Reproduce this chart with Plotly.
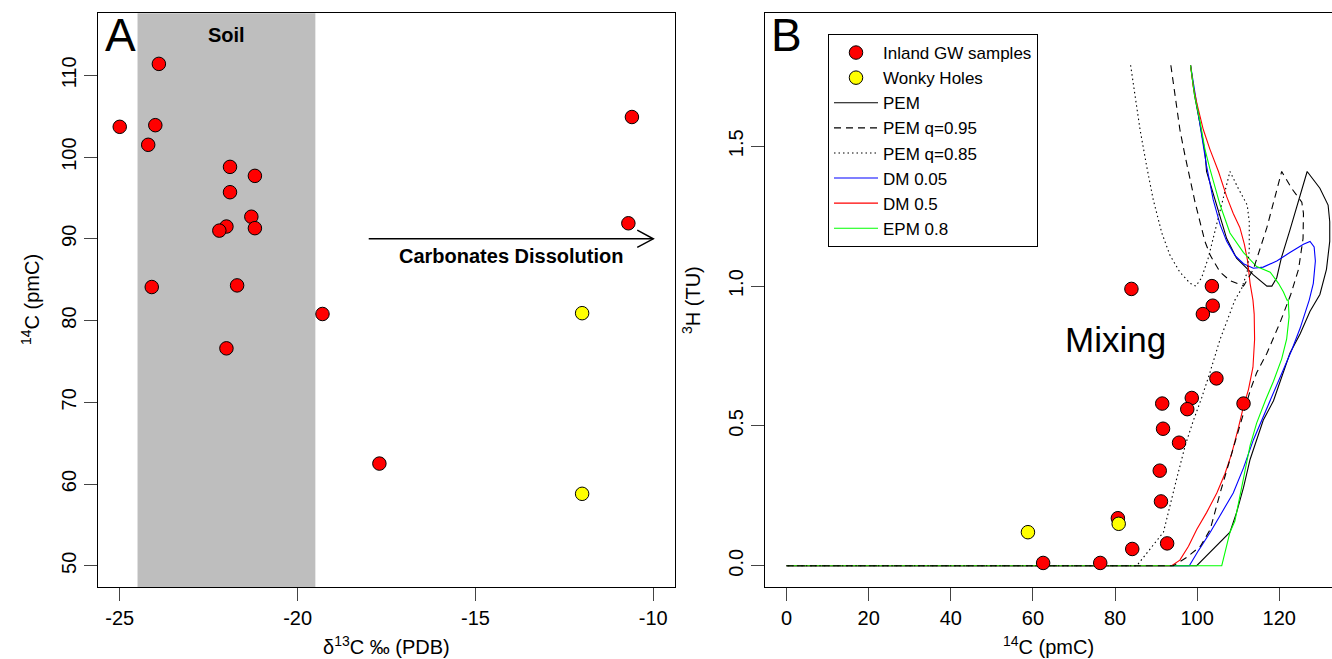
import plotly.graph_objects as go

W, H = 1332, 659
FONT = "Liberation Sans, Arial, Helvetica, sans-serif"

# ---------------- Panel A data ----------------
gw_d13c = [-23.9, -25.0, -24.0, -24.2, -10.6, -21.9, -21.2, -21.9, -21.3,
           -22.0, -22.2, -21.2, -10.7, -24.1, -21.7, -19.3, -22.0, -17.7]
gw_c14_a = [111.4, 103.7, 103.9, 101.5, 104.9, 98.8, 97.7, 95.7, 92.7,
            91.5, 91.0, 91.3, 91.9, 84.1, 84.3, 80.8, 76.6, 62.5]
wh_d13c = [-12.0, -12.0]
wh_c14_a = [80.9, 58.8]

soil_range = [-24.5, -19.5]
arrow_x = [-18.0, -10.0]
arrow_y = 90.0

# ---------------- Panel B data ----------------
gw_c14_b = [84.0, 103.6, 103.8, 101.4, 104.7, 98.7, 91.5, 97.6, 111.3,
            91.7, 95.6, 90.9, 91.2, 80.7, 92.7, 84.2, 62.5, 76.4]
gw_h3 = [0.99, 1.00, 0.93, 0.90, 0.67, 0.60, 0.58, 0.56, 0.58,
         0.49, 0.44, 0.34, 0.23, 0.17, 0.08, 0.06, 0.01, 0.01]
wh_c14_b = [80.9, 58.8]
wh_h3 = [0.15, 0.12]

# model curves (14C pmC, 3H TU)
pem_x = [98.4, 99.4, 100.7, 101.9, 102.3, 104.8, 107.2, 109.6, 113.7, 117.0, 118.2, 119.4,
         120.5, 122.6, 125.1, 126.8, 129.9, 131.9, 132.3, 132.3, 131.5, 130.3, 129.9, 127.5,
         125.1, 122.6, 121.0, 118.6, 116.1, 114.5, 112.9, 111.3, 109.6, 108.0, 99.9, 0.0]
pem_y = [1.79, 1.68, 1.58, 1.48, 1.41, 1.29, 1.17, 1.10, 1.04, 1.00, 1.00, 1.03,
         1.10, 1.20, 1.32, 1.41, 1.35, 1.29, 1.23, 1.16, 1.06, 0.99, 0.97, 0.91,
         0.83, 0.76, 0.69, 0.59, 0.52, 0.45, 0.38, 0.28, 0.19, 0.12, 0.0, 0.0]

pem95_x = [93.6, 94.6, 95.8, 97.0, 98.3, 99.5, 100.7, 101.9, 103.2, 105.6, 108.0, 111.3,
           113.7, 117.0, 120.6, 123.0, 125.5, 125.9, 125.8, 124.7, 122.8, 120.2, 117.0,
           114.5, 113.0, 110.5, 108.0, 105.6, 103.2, 100.8, 97.5, 94.2, 0.0]
pem95_y = [1.79, 1.68, 1.56, 1.47, 1.38, 1.30, 1.23, 1.16, 1.11, 1.05, 1.02, 1.00,
           1.06, 1.21, 1.41, 1.35, 1.30, 1.26, 1.17, 1.06, 0.97, 0.87, 0.76,
           0.69, 0.63, 0.50, 0.38, 0.26, 0.13, 0.07, 0.03, 0.0, 0.0]

pem85_x = [83.8, 84.9, 86.1, 87.7, 89.3, 91.4, 93.4, 95.8, 98.3, 99.7, 101.1, 102.7,
           104.8, 106.4, 108.0, 110.0, 112.2, 112.7, 112.7, 112.2, 110.8, 109.2, 105.6,
           103.1, 101.1, 99.1, 97.1, 95.0, 93.0, 91.8, 85.3, 0.0]
pem85_y = [1.79, 1.68, 1.56, 1.43, 1.31, 1.19, 1.11, 1.05, 1.01, 1.00, 1.03, 1.10,
           1.22, 1.31, 1.41, 1.35, 1.29, 1.23, 1.13, 1.05, 0.99, 0.95, 0.81,
           0.69, 0.60, 0.52, 0.43, 0.31, 0.19, 0.12, 0.0, 0.0]

dm05_x = [98.4, 99.7, 101.1, 102.3, 103.9, 105.6, 107.2, 109.2, 111.3, 113.7, 116.1, 119.4,
          122.6, 125.9, 127.5, 128.5, 128.8, 128.3, 127.3, 125.1, 123.0, 121.0, 118.6,
          116.1, 113.7, 111.3, 108.8, 105.6, 103.2, 100.4, 98.1, 0.0]
dm05_y = [1.79, 1.67, 1.55, 1.43, 1.31, 1.22, 1.16, 1.11, 1.08, 1.064, 1.068, 1.09,
          1.12, 1.15, 1.16, 1.14, 1.09, 1.01, 0.95, 0.85, 0.77, 0.70, 0.62,
          0.53, 0.45, 0.35, 0.26, 0.18, 0.12, 0.056, 0.0, 0.0]

dm5_x = [98.4, 99.1, 100.0, 101.5, 103.1, 105.2, 107.2, 108.8, 110.4, 111.5, 112.3, 112.9,
         113.6, 113.9, 114.0, 113.6, 112.5, 111.3, 110.0, 108.4, 106.8, 104.8, 102.3,
         99.9, 97.9, 95.8, 93.8, 0.0]
dm5_y = [1.79, 1.71, 1.65, 1.56, 1.49, 1.41, 1.32, 1.26, 1.21, 1.15, 1.09, 1.01,
         0.95, 0.90, 0.81, 0.71, 0.63, 0.57, 0.49, 0.40, 0.33, 0.26, 0.19,
         0.13, 0.07, 0.02, 0.0, 0.0]

epm_x = [98.4, 99.4, 100.7, 101.9, 103.1, 104.4, 105.6, 108.0, 111.3, 114.5, 117.8, 119.8,
         121.0, 121.9, 122.2, 122.4, 121.8, 120.6, 118.6, 116.6, 114.5, 112.9, 111.7,
         110.5, 109.2, 108.0, 106.0, 0.0]
epm_y = [1.79, 1.68, 1.59, 1.49, 1.42, 1.35, 1.29, 1.19, 1.12, 1.07, 1.05, 1.01,
         0.98, 0.95, 0.95, 0.89, 0.81, 0.74, 0.66, 0.59, 0.51, 0.43, 0.34,
         0.25, 0.16, 0.12, 0.0, 0.0]

# ---------------- figure ----------------
fig = go.Figure()

marker_red = dict(color="#FF0000", size=13.5, line=dict(color="black", width=1))
marker_yel = dict(color="#FFFF00", size=13.5, line=dict(color="black", width=1))

# Panel A points
fig.add_trace(go.Scatter(x=gw_d13c, y=gw_c14_a, mode="markers", marker=marker_red,
                         showlegend=False, xaxis="x", yaxis="y", hoverinfo="x+y"))
fig.add_trace(go.Scatter(x=wh_d13c, y=wh_c14_a, mode="markers", marker=marker_yel,
                         showlegend=False, xaxis="x", yaxis="y", hoverinfo="x+y"))

# Panel B curves
curves = [
    ("PEM", pem_x, pem_y, "black", "solid", 3),
    ("DM 0.05", dm05_x, dm05_y, "#0000FF", "solid", 6),
    ("DM 0.5", dm5_x, dm5_y, "#FF0000", "solid", 7),
    ("EPM 0.8", epm_x, epm_y, "#00FF00", "solid", 8),
    ("PEM q=0.95", pem95_x, pem95_y, "black", "7px,5px", 4),
    ("PEM q=0.85", pem85_x, pem85_y, "black", "1.5px,3px", 5),
]
for name, xs, ys, col, dash, rank in curves:
    fig.add_trace(go.Scatter(x=xs, y=ys, mode="lines", name=name, legendrank=rank,
                             line=dict(color=col, width=1.1, dash=dash),
                             xaxis="x2", yaxis="y2"))

fig.add_trace(go.Scatter(x=gw_c14_b, y=gw_h3, mode="markers", name="Inland GW samples",
                         legendrank=1, marker=marker_red, xaxis="x2", yaxis="y2"))
fig.add_trace(go.Scatter(x=wh_c14_b, y=wh_h3, mode="markers", name="Wonky Holes",
                         legendrank=2, marker=marker_yel, xaxis="x2", yaxis="y2"))

ydom = [1 - 587 / H, 1 - 13.2 / H]
axis_common = dict(showgrid=False, zeroline=False, showline=True, linecolor="black",
                   linewidth=1, ticks="outside", ticklen=13, tickwidth=1, automargin=False,
                   tickcolor="#444444", tickfont=dict(size=20, color="black", family=FONT))

fig.update_layout(
    width=W, height=H,
    margin=dict(l=0, r=0, t=0, b=0, pad=0, autoexpand=False),
    paper_bgcolor="white", plot_bgcolor="white",
    font=dict(family=FONT, color="black"),
    xaxis=dict(domain=[98.4 / W, 674.6 / W], range=[-25.6, -9.4], mirror=True,
               tickvals=[-25, -20, -15, -10], ticktext=["-25", "-20", "-15", "-10"],
               anchor="y", **axis_common),
    yaxis=dict(domain=ydom, range=[47.4, 117.6], mirror=True, tickangle=-90,
               tickvals=[50, 60, 70, 80, 90, 100, 110], anchor="x", **axis_common),
    xaxis2=dict(domain=[765 / W, 1.0], range=[-5.24, 132.85], mirror=True,
                tickvals=[0, 20, 40, 60, 80, 100, 120], anchor="y2", **axis_common),
    yaxis2=dict(domain=ydom, range=[-0.076, 1.976], mirror=False, tickangle=-90,
                tickvals=[0, 0.5, 1.0, 1.5], ticktext=["0.0", "0.5", "1.0", "1.5"],
                anchor="x2", **axis_common),
    legend=dict(x=828 / W, y=1 - 34 / H, xanchor="left", yanchor="top",
                bordercolor="black", borderwidth=1, bgcolor="white",
                font=dict(size=17, family=FONT, color="black"),
                tracegroupgap=0, itemwidth=44, entrywidth=200),
    showlegend=True,
)

# Soil band
fig.add_shape(type="rect", xref="x", yref="y domain", x0=soil_range[0], x1=soil_range[1],
              y0=0, y1=1, fillcolor="#BEBEBE", line=dict(width=0), layer="below")

# Carbonates dissolution arrow
fig.add_shape(type="line", xref="x", yref="y", x0=arrow_x[0], x1=arrow_x[1],
              y0=arrow_y, y1=arrow_y, line=dict(color="black", width=1.5))
hx, hy = 0.45, 1.05
fig.add_shape(type="path", xref="x", yref="y",
              path=f"M {arrow_x[1]-hx},{arrow_y+hy} L {arrow_x[1]},{arrow_y} L {arrow_x[1]-hx},{arrow_y-hy}",
              line=dict(color="black", width=1.5))


def txt(text, x, y, xref="paper", yref="paper", size=20, bold=False, angle=0,
        xanchor="center", yanchor="middle"):
    f = dict(size=size, family=FONT, color="black")
    if bold:
        f["weight"] = "bold"
    return dict(text=text, x=x, y=y, xref=xref, yref=yref, showarrow=False,
                xanchor=xanchor, yanchor=yanchor, textangle=angle, font=f)


ann = [
    txt("Soil", -22.0, 114.9, "x", "y", bold=True),
    txt("Carbonates Dissolution", -14.0, 87.9, "x", "y", bold=True),
    txt("Mixing", 80, 0.81, "x2", "y2", size=35),
    txt("A", 103 / W, 1 - 7 / H, size=46, xanchor="left", yanchor="top"),
    txt("B", 769 / W, 1 - 7 / H, size=46, xanchor="left", yanchor="top"),
    txt("δ<sup>13</sup>C ‰ (PDB)", 387 / W, 1 - 645 / H),
    txt("<sup>14</sup>C (pmC)", 1048 / W, 1 - 645 / H),
    txt("<sup>14</sup>C (pmC)", 31 / W, 1 - 300 / H, angle=-90),
    txt("<sup>3</sup>H (TU)", 692 / W, 1 - 300 / H, angle=-90),
]
fig.update_layout(annotations=ann)

fig.write_html("out.html", config={"displayModeBar": False},
               post_script="document.body.style.margin='0px';")
